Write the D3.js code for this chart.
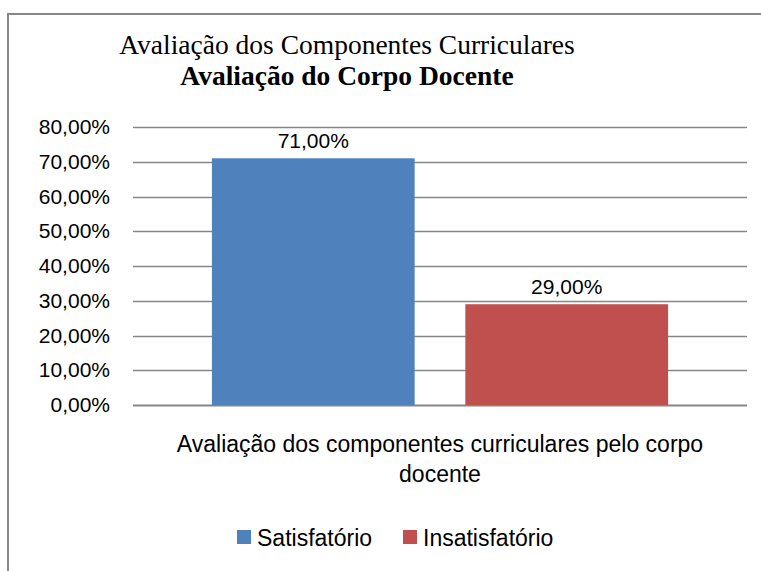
<!DOCTYPE html>
<html lang="pt">
<head>
  <meta charset="UTF-8">
  <title>Avaliação do Corpo Docente</title>
  <script src="https://d3js.org/d3.v7.min.js"></script>
  <style>
    body, html {
      margin: 0;
      padding: 0;
      background: #fff;
    }
    svg {
      display: block;
    }
    .title1 {
      font-family: "Liberation Serif", "Times New Roman", serif;
      font-size: 27.5px;
    }
    .title2 {
      font-family: "Liberation Serif", "Times New Roman", serif;
      font-size: 27.5px;
      font-weight: bold;
    }
    .tick text, .bar-label {
      font-family: "Liberation Sans", Arial, sans-serif;
      font-size: 21px;
      fill: #000;
    }
    .cat-label, .legend text {
      font-family: "Liberation Sans", Arial, sans-serif;
      font-size: 23px;
      fill: #000;
    }
  </style>
</head>
<body>
  <div id="chart"></div>

  <script>
    // data
    const categories = ["Avaliação dos componentes curriculares pelo corpo docente"];
    const series = ["Satisfatório", "Insatisfatório"];
    const values = [0.71, 0.29];
    const colors = ["#4F81BD", "#C0504D"];
    const yTicks = [0, 0.1, 0.2, 0.3, 0.4, 0.5, 0.6, 0.7, 0.8];

    const width = 761;
    const height = 571;
    const margin = { top: 127, right: 14, bottom: 166, left: 133 };

    const svg = d3.select("#chart")
      .append("svg")
      .attr("width", width)
      .attr("height", height);

    // outer frame (cut off at right and bottom like the picture)
    svg.append("path")
      .attr("d", `M8,${height + 5} L8,14 L${width + 5},14`)
      .attr("fill", "none")
      .attr("stroke", "#868686")
      .attr("stroke-width", 2);

    svg.append("text")
      .attr("class", "title1")
      .attr("x", 347)
      .attr("y", 54)
      .attr("text-anchor", "middle")
      .text("Avaliação dos Componentes Curriculares");

    svg.append("text")
      .attr("class", "title2")
      .attr("x", 347)
      .attr("y", 85)
      .attr("text-anchor", "middle")
      .text("Avaliação do Corpo Docente");

    const x0 = margin.left;
    const x1 = width - margin.right;
    const yBottom = height - margin.bottom;

    const y = d3.scaleLinear()
      .domain([0, 0.8])
      .range([yBottom, margin.top]);

    const x = d3.scaleBand()
      .domain(categories)
      .range([x0, x1])
      .paddingInner(0)
      .paddingOuter(0.173);

    const xs = d3.scaleBand()
      .domain(series)
      .range([0, x.bandwidth()])
      .paddingInner(0.2);

    const fmt = v => d3.format(".2f")(v * 100).replace(".", ",") + "%";

    // gridlines
    svg.append("g")
      .selectAll("line")
      .data(yTicks)
      .join("line")
      .attr("x1", x0)
      .attr("x2", x1)
      .attr("y1", d => Math.round(y(d)) + 0.5)
      .attr("y2", d => Math.round(y(d)) + 0.5)
      .attr("stroke", "#868686")
      .attr("stroke-width", d => d === 0 ? 2 : 1.5);

    // y axis labels
    const yAxis = svg.append("g")
      .attr("transform", `translate(${x0},0)`)
      .call(d3.axisLeft(y).tickValues(yTicks).tickFormat(fmt).tickSize(0).tickPadding(23));
    yAxis.select(".domain").remove();
    yAxis.selectAll(".tick text").attr("font-family", null).attr("font-size", null);

    // bars
    const g = svg.append("g");
    g.selectAll("rect")
      .data(series)
      .join("rect")
      .attr("x", (d) => x(categories[0]) + xs(d))
      .attr("width", xs.bandwidth())
      .attr("y", (d, i) => y(values[i]))
      .attr("height", (d, i) => yBottom - y(values[i]))
      .attr("fill", (d, i) => colors[i]);

    g.selectAll(".bar-label")
      .data(series)
      .join("text")
      .attr("class", "bar-label")
      .attr("x", d => x(categories[0]) + xs(d) + xs.bandwidth() / 2)
      .attr("y", (d, i) => y(values[i]) - 10)
      .attr("text-anchor", "middle")
      .text((d, i) => fmt(values[i]));

    // category label (two lines)
    const cx = (x0 + x1) / 2;
    const cat = svg.append("text")
      .attr("class", "cat-label")
      .attr("text-anchor", "middle")
      .attr("x", cx)
      .attr("y", 452);
    cat.append("tspan").attr("x", cx).text("Avaliação dos componentes curriculares pelo corpo");
    cat.append("tspan").attr("x", cx).attr("dy", 30).text("docente");

    // legend
    const legendX = [237, 403];
    const legend = svg.append("g").attr("class", "legend");
    const items = legend.selectAll("g")
      .data(series)
      .join("g")
      .attr("transform", (d, i) => `translate(${legendX[i]},530)`);
    items.append("rect")
      .attr("width", 14)
      .attr("height", 14)
      .attr("fill", (d, i) => colors[i]);
    items.append("text")
      .attr("x", 20)
      .attr("y", 16)
      .text(d => d);
  </script>
</body>
</html>
